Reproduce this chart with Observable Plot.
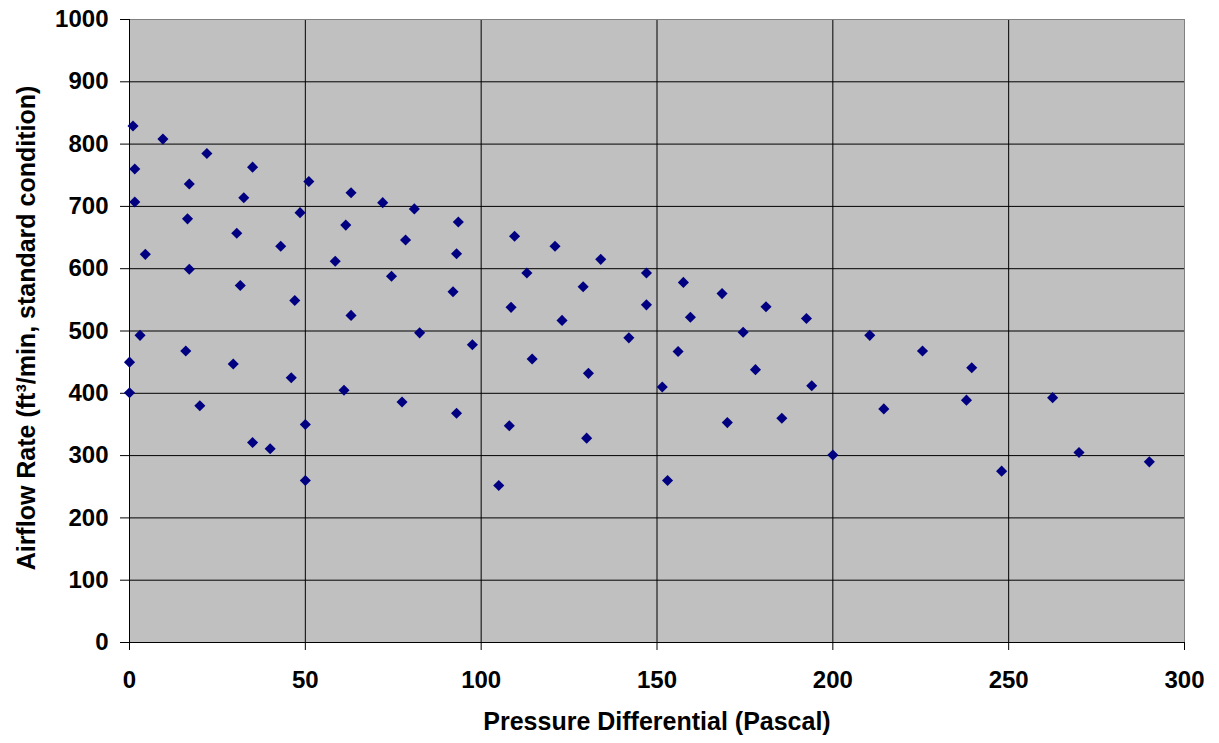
<!DOCTYPE html>
<html>
<head>
<meta charset="utf-8">
<script src="https://cdn.jsdelivr.net/npm/d3@7"></script>
<script src="https://cdn.jsdelivr.net/npm/@observablehq/plot@0.6"></script>
<style>
  html, body { margin: 0; padding: 0; background: #fff; }
</style>
</head>
<body>
<div id="chart"></div>
<script>
const pressure = [1, 9.5, 22, 1.5, 35, 17, 51, 63, 1.5, 32.5, 72, 81, 93.5, 16.5, 48.5, 61.5, 30.5, 78.5, 43, 93, 4.5, 58.5, 17, 74.5, 31.5, 92, 47, 63, 82.5, 3, 97.5, 0, 16, 29.5, 46, 0, 20, 61, 77.5, 93, 50, 35, 40, 50,
  109.5, 121, 134, 113, 147, 157.5, 129, 168.5, 108.5, 147, 181, 192.5, 123, 159.5, 174.5, 142, 114.5, 156, 130.5, 178, 151.5, 194, 108, 170, 185.5, 130, 200, 105, 153,
  210.5, 225.5, 239.5, 214.5, 238, 262.5, 248, 270, 290];
const airflow = [829, 808, 785, 760, 763, 736, 740, 722, 707, 714, 706, 696, 675, 680, 690, 670, 657, 646, 636, 624, 623, 612, 599, 588, 573, 563, 549, 525, 497, 493, 478, 450, 468, 447, 425, 401, 380, 405, 386, 368, 350, 321, 311, 260,
  652, 636, 615, 593, 593, 578, 571, 560, 538, 542, 539, 520, 517, 522, 498, 489, 455, 467, 432, 438, 410, 412, 348, 353, 360, 328, 301, 252, 260,
  493, 468, 441, 375, 389, 393, 275, 305, 290];
const xTicks = [0, 50, 100, 150, 200, 250, 300];
const yTicks = [0, 100, 200, 300, 400, 500, 600, 700, 800, 900, 1000];
const xLabel = "Pressure Differential (Pascal)";
const yLabel = "Airflow Rate (ft³/min, standard condition)";

const data = pressure.map((p, i) => ({p, a: airflow[i]}));

const chart = Plot.plot({
  width: 1219,
  height: 743,
  marginLeft: 129,
  marginRight: 35,
  marginTop: 19,
  marginBottom: 101,
  style: {fontFamily: "'Liberation Sans', Arial, sans-serif", fontSize: "24px", fontWeight: "bold", color: "#000", background: "#fff"},
  x: {domain: [0, 300]},
  y: {domain: [0, 1000]},
  marks: [
    Plot.frame({fill: "#c0c0c0", stroke: null}),
    Plot.gridX(xTicks.filter(d => d > 0 && d < 300), {stroke: "#000", strokeOpacity: 1, strokeWidth: 1}),
    Plot.gridY(yTicks.filter(d => d > 0 && d < 1000), {stroke: "#000", strokeOpacity: 1, strokeWidth: 1}),
    Plot.ruleY([1000], {stroke: "#808080", strokeWidth: 1}),
    Plot.ruleX([300], {stroke: "#808080", strokeWidth: 1}),
    Plot.ruleX([0], {stroke: "#000", strokeWidth: 1}),
    Plot.ruleY([0], {stroke: "#000", strokeWidth: 1}),
    Plot.axisX({ticks: xTicks, tickSize: 8, tickPadding: 20, tickFormat: d => String(d), label: null, stroke: "#000"}),
    Plot.axisY({ticks: yTicks, tickSize: 9, tickPadding: 12, tickFormat: d => String(d), label: null, stroke: "#000"}),
    Plot.text([xLabel], {frameAnchor: "bottom", dy: 79, lineAnchor: "middle", textAnchor: "middle", fontSize: 25, fontWeight: "bold", fill: "#000"}),
    Plot.text([yLabel], {frameAnchor: "left", dx: -103, dy: -3, rotate: -90, lineAnchor: "middle", textAnchor: "middle", fontSize: 25, fontWeight: "bold", fill: "#000"}),
    Plot.dot(data, {x: "p", y: "a", symbol: "diamond2", r: 5, fill: "#000080", stroke: null})
  ]
});
document.getElementById("chart").appendChild(chart);
</script>
</body>
</html>
